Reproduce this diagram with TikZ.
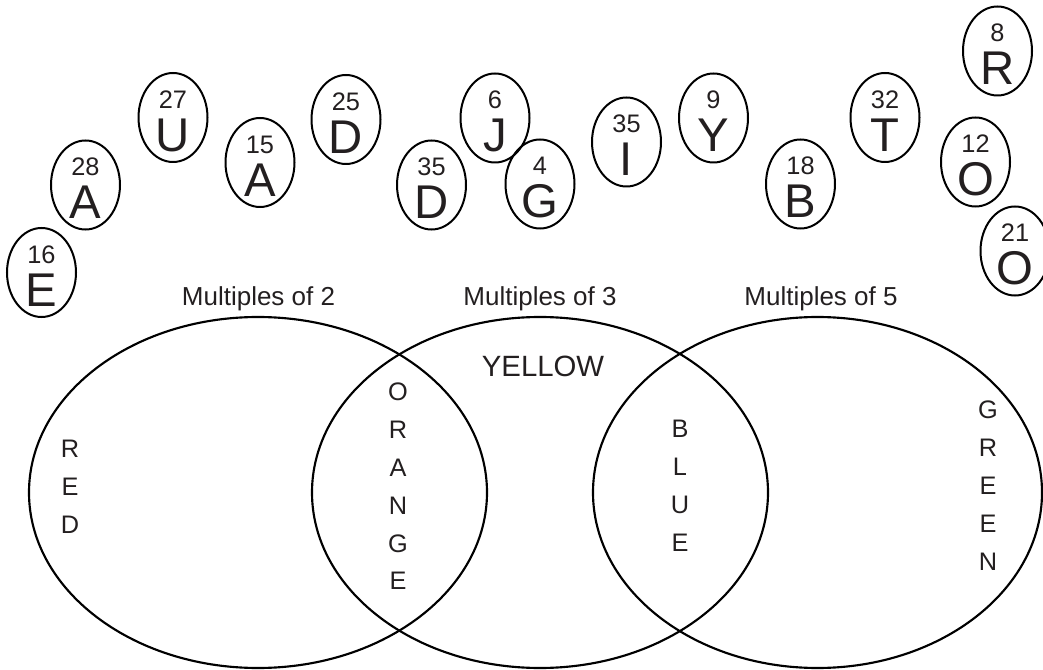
\documentclass[tikz,border=0pt]{standalone}
\usepackage{fontspec}
\setmainfont{Liberation Sans}
\usetikzlibrary{shapes.geometric,calc}
\definecolor{ink}{RGB}{35,31,32}
\begin{document}
\begin{tikzpicture}[x=0.75pt,y=-0.75pt,
  ball/.style={draw=black,line width=1.5pt,ellipse,inner sep=0pt,minimum width=51.75pt,minimum height=66.75pt},
  numtxt/.style={text=ink,inner sep=0pt,anchor=base,font=\fontsize{19}{21}\selectfont},
  lettxt/.style={text=ink,inner sep=0pt,anchor=base,font=\fontsize{35.5}{40}\selectfont},
  setline/.style={draw=black,line width=1.6pt},
  title/.style={text=ink,inner sep=0pt,anchor=base,font=\fontsize{19.5}{22}\selectfont},
  vert/.style={text=ink,inner sep=0pt,anchor=north,align=center,font=\fontsize{19}{28.35}\selectfont}]
\useasboundingbox (0,0) rectangle (1043,670);
\newcommand\tile[4]{%
  \node[ball] (#1) at (#2) {};
  \node[numtxt] (#1n) at ($(#1)+(0,-9)$) {#3};
  \node[lettxt] (#1l) at ($(#1)+(0,34)$) {#4};}
% Venn sets
\draw[setline] (258,492.5) ellipse [x radius=229, y radius=175.5];
\draw[setline] (540,492.5) ellipse [x radius=228, y radius=175.5];
\draw[setline] (817.5,492.5) ellipse [x radius=224.5, y radius=175.5];
\node[title] (m2) at (258.5,306) {Multiples of 2};
\node[title] (m3) at (540,306) {Multiples of 3};
\node[title] (m5) at (821,306) {Multiples of 5};
\node[title,font=\fontsize{22}{24}\selectfont] (yel) at (543,377) {YELLOW};
\node[vert] (red) at (70,440) {R\\E\\D};
\node[vert] (orange) at (398,383) {O\\R\\A\\N\\G\\E};
\node[vert] (blue) at (680,420) {B\\L\\U\\E};
\node[vert] (green) at (988,401) {G\\R\\E\\E\\N};
% letter tiles
\tile{e16}{41.5,272.5}{16}{E}
\tile{a28}{85.5,185}{28}{A}
\tile{u27}{173,117.5}{27}{U}
\tile{a15}{260,162.5}{15}{A}
\tile{d25}{346,119.5}{25}{D}
\tile{d35}{431.5,185}{35}{D}
\tile{j6}{495,118}{6}{J}
\tile{g4}{540,184}{4}{G}
\tile{i35}{626.5,142}{35}{I}
\tile{y9}{713.5,118}{9}{Y}
\tile{b18}{800.5,184}{18}{B}
\tile{t32}{885,117.5}{32}{T}
\tile{r8}{997.5,51}{8}{R}
\tile{o12}{975.5,162}{12}{O}
\tile{o21}{1015,251}{21}{O}
\end{tikzpicture}
\end{document}
